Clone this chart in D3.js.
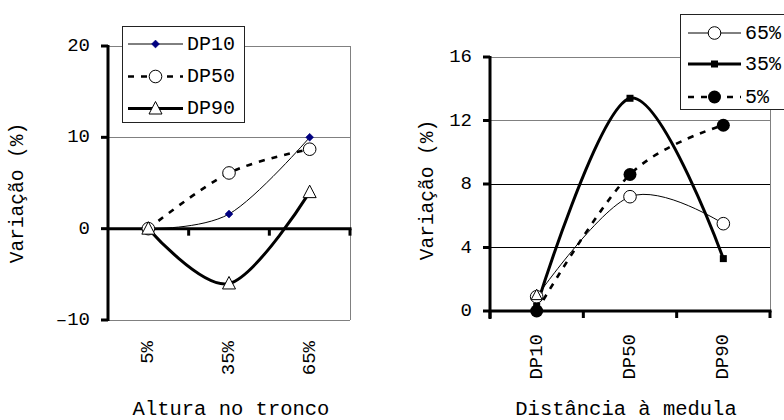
<!DOCTYPE html>
<html><head><meta charset="utf-8">
<script src="https://cdn.jsdelivr.net/npm/d3@7"></script>
<style>
body{margin:0;background:#fff}
svg{display:block}
text{font-family:"Liberation Mono","Courier New",monospace;fill:#000}
</style></head>
<body><svg id="c" width="784" height="420"></svg>
<script>
// ---- data ----
const leftCats = ["5%", "35%", "65%"];
const dp10 = [0, 1.6, 10];
const dp50 = [0, 6.1, 8.7];
const dp90 = [0, -6.0, 4.0];
const leftTicks = [-10, 0, 10, 20];
const leftNames = ["DP10", "DP50", "DP90"];

const rightCats = ["DP10", "DP50", "DP90"];
const s65 = [0.9, 7.2, 5.5];
const s35 = [0.3, 13.4, 3.3];
const s5 = [0, 8.6, 11.7];
const strayTriangle = [1.0]; // stray marker at DP10
const rightTicks = [0, 4, 8, 12, 16];
const rightNames = ["65%", "35%", "5%"];

const svg = d3.select("#c");
const FS = 19;

function marker(g, type, x, y) {
  if (type === "diamond") {
    g.append("path").attr("d", d3.symbol(d3.symbolDiamond2, 40)()).attr("transform", `translate(${x},${y})`)
      .attr("fill", "#000080").attr("stroke", "#000080").attr("stroke-width", 0.5);
  } else if (type === "ocircle") {
    g.append("circle").attr("cx", x).attr("cy", y).attr("r", 6.3).attr("fill", "#fff").attr("stroke", "#000").attr("stroke-width", 1);
  } else if (type === "fcircle") {
    g.append("circle").attr("cx", x).attr("cy", y).attr("r", 6.5).attr("fill", "#000");
  } else if (type === "square") {
    g.append("rect").attr("x", x - 3.5).attr("y", y - 3.5).attr("width", 7).attr("height", 7).attr("fill", "#000");
  } else if (type === "triangle") {
    g.append("path").attr("d", `M${x},${y - 7}L${x + 6.5},${y + 5.5}L${x - 6.5},${y + 5.5}Z`)
      .attr("fill", "#fff").attr("stroke", "#000").attr("stroke-width", 1);
  } else if (type === "smalltri") {
    g.append("path").attr("d", `M${x},${y - 6}L${x + 5.5},${y + 4.5}L${x - 5.5},${y + 4.5}Z`)
      .attr("fill", "#fff").attr("stroke", "#000").attr("stroke-width", 1);
  }
}

function styleLine(p, st) {
  p.attr("fill", "none").attr("stroke", "#000").attr("stroke-width", st.w);
  if (st.dash) p.attr("stroke-dasharray", st.dash);
  return p;
}

function chart(o) {
  const g = svg.append("g");
  const x = d3.scaleBand().domain(o.cats).range(o.xr);
  const y = d3.scaleLinear().domain(o.yd).range(o.yr);
  const [x0, x1] = o.xr;
  const yTop = y(o.yd[1]), yBot = y(o.yd[0]);
  // gridlines
  o.ticks.forEach(t => {
    if (t === 0) return;
    g.append("line").attr("x1", x0).attr("x2", x1).attr("y1", y(t)).attr("y2", y(t))
      .attr("stroke", o.gridColor(t)).attr("stroke-width", 1).attr("shape-rendering", "crispEdges");
  });
  // right border
  g.append("line").attr("x1", x1).attr("x2", x1).attr("y1", yTop).attr("y2", yBot)
    .attr("stroke", "#808080").attr("stroke-width", 1).attr("shape-rendering", "crispEdges");
  // y axis
  g.append("line").attr("x1", x0).attr("x2", x0).attr("y1", yTop - 1).attr("y2", o.yAxisBottom)
    .attr("stroke", "#000").attr("stroke-width", 3);
  o.ticks.forEach(t => {
    g.append("line").attr("x1", x0 - 7).attr("x2", x0).attr("y1", y(t)).attr("y2", y(t))
      .attr("stroke", "#000").attr("stroke-width", 3);
    g.append("text").attr("x", x0 - 18).attr("y", y(t)).attr("text-anchor", "end")
      .attr("dominant-baseline", "central").attr("font-size", FS).text(t < 0 ? "\u2013" + Math.abs(t) : t);
  });
  // x axis at zero
  g.append("line").attr("x1", x0).attr("x2", x1 + 1.5).attr("y1", y(0)).attr("y2", y(0))
    .attr("stroke", "#000").attr("stroke-width", 3);
  for (let i = 1; i <= o.cats.length; i++) {
    const xt = x0 + x.step() * i;
    g.append("line").attr("x1", xt).attr("x2", xt).attr("y1", y(0)).attr("y2", y(0) + 7)
      .attr("stroke", "#000").attr("stroke-width", 3);
  }
  if (o.bottomTick) {
    g.append("line").attr("x1", x0).attr("x2", x0).attr("y1", y(0)).attr("y2", y(0) + 7)
      .attr("stroke", "#000").attr("stroke-width", 3);
  }
  // x tick labels rotated
  o.cats.forEach(c => {
    const cx = x(c) + x.bandwidth() / 2;
    g.append("text").attr("transform", `translate(${cx},${o.xLabTop}) rotate(-90)`)
      .attr("text-anchor", "end").attr("dominant-baseline", "central").attr("font-size", FS).text(c);
  });
  // axis titles
  g.append("text").attr("x", o.xTitle[0]).attr("y", o.xTitle[1]).attr("text-anchor", "middle")
    .attr("font-size", 20.5).text(o.xTitleText);
  g.append("text").attr("transform", `translate(${o.yTitle[0]},${o.yTitle[1]}) rotate(-90)`)
    .attr("text-anchor", "middle").attr("dominant-baseline", "central").attr("font-size", 19.5)
    .text("Variação (%)");
  // series
  const line = d3.line().x((d, i) => x(o.cats[i]) + x.bandwidth() / 2).y(d => y(d)).curve(d3.curveCardinal.tension(0));
  o.series.forEach(s => {
    styleLine(g.append("path").attr("d", line(s.values)), s);
  });
  o.series.forEach(s => {
    s.values.forEach((v, i) => marker(g, s.marker, x(o.cats[i]) + x.bandwidth() / 2, y(v)));
  });
  if (o.extra) o.extra(g, x, y);
  // legend
  const L = o.legend;
  g.append("rect").attr("x", L.x).attr("y", L.y).attr("width", L.w).attr("height", L.h)
    .attr("fill", "#fff").attr("stroke", "#222").attr("stroke-width", 1).attr("shape-rendering", "crispEdges");
  o.series.forEach((s, i) => {
    const ly = L.rows[i];
    styleLine(g.append("line").attr("x1", L.lx0).attr("x2", L.lx1).attr("y1", ly).attr("y2", ly), s);
    marker(g, s.marker, (L.lx0 + L.lx1) / 2, ly);
    g.append("text").attr("x", L.tx).attr("y", ly).attr("dominant-baseline", "central")
      .attr("font-size", FS + 1).text(s.name);
  });
}

chart({
  cats: leftCats, xr: [108, 350], yd: [-10, 20], yr: [320, 46], ticks: leftTicks,
  gridColor: t => "#808080", yAxisBottom: 321, bottomTick: false,
  xLabTop: 341, xTitle: [231, 415], xTitleText: "Altura no tronco", yTitle: [18, 193],
  series: [
    {name: leftNames[0], values: dp10, w: 1, marker: "diamond"},
    {name: leftNames[1], values: dp50, w: 2.6, dash: "6,7", marker: "ocircle"},
    {name: leftNames[2], values: dp90, w: 3, marker: "triangle"}
  ],
  legend: {x: 122.5, y: 26.5, w: 122, h: 96, rows: [44, 76.5, 108.5], lx0: 128, lx1: 183, tx: 187}
});

chart({
  cats: rightCats, xr: [490, 770], yd: [0, 16], yr: [311, 57], ticks: rightTicks,
  gridColor: t => (t >= 12 ? "#808080" : "#000"), yAxisBottom: 319, bottomTick: true,
  xLabTop: 334, xTitle: [626, 415], xTitleText: "Distância à medula", yTitle: [428, 190],
  series: [
    {name: rightNames[0], values: s65, w: 1, marker: "ocircle"},
    {name: rightNames[1], values: s35, w: 3, marker: "square"},
    {name: rightNames[2], values: s5, w: 2.6, dash: "6,7", marker: "fcircle"}
  ],
  extra: (g, x, y) => {
    strayTriangle.forEach((v, i) => marker(g, "smalltri", x(rightCats[i]) + x.bandwidth() / 2, y(v)));
  },
  legend: {x: 680.5, y: 14.5, w: 110, h: 95, rows: [33, 64, 97], lx0: 688, lx1: 741, tx: 745}
});
</script></body></html>
